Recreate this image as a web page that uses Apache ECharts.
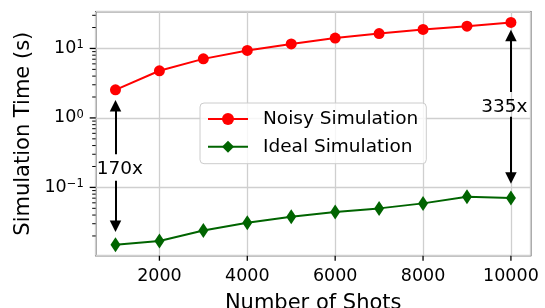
<!DOCTYPE html>
<html><head><meta charset="utf-8">
<script src="https://cdn.jsdelivr.net/npm/echarts@6/dist/echarts.min.js"></script>
<style>html,body{margin:0;padding:0;background:#fff}#c{width:545px;height:308px}</style>
</head><body><div id="c"></div>
<script>
// ---- data ----
const shots = [1000, 2000, 3000, 4000, 5000, 6000, 7000, 8000, 9000, 10000];
const noisyTime = [2.54, 4.77, 7.08, 9.36, 11.6, 14.1, 16.4, 18.8, 20.9, 23.7];
const idealTime = [0.0149, 0.0169, 0.0240, 0.0310, 0.0378, 0.0441, 0.0499, 0.0589, 0.0733, 0.0702];
const xTickValues = [2000, 4000, 6000, 8000, 10000];
const yMajorTicks = [0.1, 1, 10];
const seriesNames = ['Noisy Simulation', 'Ideal Simulation'];
// speed-up annotations: x of arrow, text anchor, arrow segments (value space)
const speedupLabels = ['170x', '335x'];
const speedupArrowX = [1000, 10000];
const speedupTextPos = [[1100, 0.186], [9850, 1.48]];
const speedupUpSeg = [[0.301, 1.50], [2.37, 15.3]];
const speedupDownSeg = [[0.125, 0.0275], [1.04, 0.137]];

const X_MIN = 550, X_MAX = 10450, Y_MIN = 0.0104, Y_MAX = 33.8;
const FONT = 'DejaVu Sans';

const yMinorTicks = [];
for (let e = -2; e <= 1; e++) for (let m = 2; m <= 9; m++) {
  const v = m * Math.pow(10, e);
  if (v > Y_MIN && v < Y_MAX) yMinorTicks.push(v);
}
const tickData = [];
yMinorTicks.forEach(v => tickData.push([X_MIN, v, 0]));
yMajorTicks.forEach(v => tickData.push([X_MIN, v, 1]));
xTickValues.forEach(v => tickData.push([v, Y_MIN, 2]));

const markLines = [];
speedupLabels.forEach((t, i) => {
  const x = speedupArrowX[i];
  markLines.push([{coord: [x, speedupUpSeg[i][0]]}, {coord: [x, speedupUpSeg[i][1]]}]);
  markLines.push([{coord: [x, speedupDownSeg[i][0]]}, {coord: [x, speedupDownSeg[i][1]]}]);
});
const markPoints = speedupLabels.map((t, i) => ({
  coord: speedupTextPos[i], value: t
}));

function supLabel(v) {
  const l = Math.log10(v);
  const e = Math.round(l);
  if (Math.abs(l - e) > 1e-6) return '';
  return '10{sup|' + (e < 0 ? '\u2212' + (-e) : String(e)) + '}';
}

const chart = echarts.init(document.getElementById('c'), null, {renderer: 'canvas'});
chart.setOption({
  animation: false,
  backgroundColor: '#fff',
  textStyle: {fontFamily: FONT},
  grid: {left: 95.7, right: 14.3, top: 11.7, bottom: 52.3, show: true,
         outerBoundsMode: 'none',
         borderColor: '#000', borderWidth: 1.3, backgroundColor: 'transparent', containLabel: false},
  legend: {
    data: seriesNames, orient: 'vertical', left: 200, top: 103,
    padding: [5, 8, 6, 7], itemGap: 5.7, itemWidth: 40, itemHeight: 15,
    backgroundColor: 'rgba(255,255,255,0.8)', borderColor: '#cccccc', borderWidth: 1, borderRadius: 4,
    textStyle: {fontFamily: FONT, fontSize: 18.5, color: '#000', lineHeight: 22, padding: [0, 0, 0, 10]}
  },
  xAxis: {
    type: 'value', min: X_MIN, max: X_MAX, splitNumber: 5,
    name: 'Number of Shots', nameLocation: 'middle', nameGap: 37,
    nameTextStyle: {fontFamily: FONT, fontSize: 21, color: '#000'},
    axisLine: {show: false}, axisTick: {show: false},
    axisLabel: {fontFamily: FONT, fontSize: 17.5, color: '#000', margin: 12,
      formatter: v => (xTickValues.indexOf(v) >= 0 ? String(v) : '')},
    splitLine: {show: true, lineStyle: {color: '#cfcfcf', width: 1.3}}
  },
  yAxis: {
    type: 'log', logBase: 10, min: Y_MIN, max: Y_MAX,
    name: 'Simulation Time (s)', nameLocation: 'middle', nameGap: 62,
    nameTextStyle: {fontFamily: FONT, fontSize: 21, color: '#000'},
    axisLine: {show: false}, axisTick: {show: false},
    axisLabel: {fontFamily: FONT, fontSize: 17.5, lineHeight: 18, color: '#000', margin: 12,
      formatter: supLabel,
      rich: {sup: {fontFamily: FONT, fontSize: 11.5, verticalAlign: 'top', lineHeight: 12, color: '#000'}}},
    splitLine: {show: true, lineStyle: {color: '#cfcfcf', width: 1.3}}
  },
  series: [
    {
      name: seriesNames[0], type: 'line', data: shots.map((s, i) => [s, noisyTime[i]]),
      symbol: 'circle', symbolSize: 11, color: '#ff0000',
      lineStyle: {width: 2, color: '#ff0000'}, itemStyle: {color: '#ff0000'}, z: 3,
      markLine: {
        silent: true, symbol: ['none', 'triangle'], symbolSize: 11.5,
        label: {show: false}, lineStyle: {color: '#000', width: 2, type: 'solid'},
        itemStyle: {color: '#000'}, data: markLines
      }
    },
    {
      name: seriesNames[1], type: 'line', data: shots.map((s, i) => [s, idealTime[i]]),
      symbol: 'diamond', symbolSize: [10, 15], color: '#006400',
      lineStyle: {width: 2, color: '#006400'}, itemStyle: {color: '#006400'}, z: 3,
      markPoint: {
        silent: true, symbol: 'rect', symbolSize: 1, itemStyle: {color: 'rgba(0,0,0,0)'},
        label: {show: true, position: 'inside', offset: [0, 1], formatter: p => p.value,
                fontFamily: FONT, fontSize: 18.5, color: '#000'},
        data: markPoints
      }
    },
    {
      type: 'custom', silent: true, clip: false, z: 6, data: tickData,
      encode: {x: 0, y: 1},
      renderItem: (params, api) => {
        const p = api.coord([api.value(0), api.value(1)]);
        const k = api.value(2);
        let shape;
        if (k === 2) shape = {x1: p[0], y1: p[1], x2: p[0], y2: p[1] + 5};
        else { const len = k === 1 ? 6 : 3.5; shape = {x1: p[0] - len, y1: p[1], x2: p[0], y2: p[1]}; }
        return {type: 'line', shape: shape, style: {stroke: '#000', lineWidth: k === 0 ? 1 : 1.3}};
      }
    }
  ]
});
</script></body></html>
